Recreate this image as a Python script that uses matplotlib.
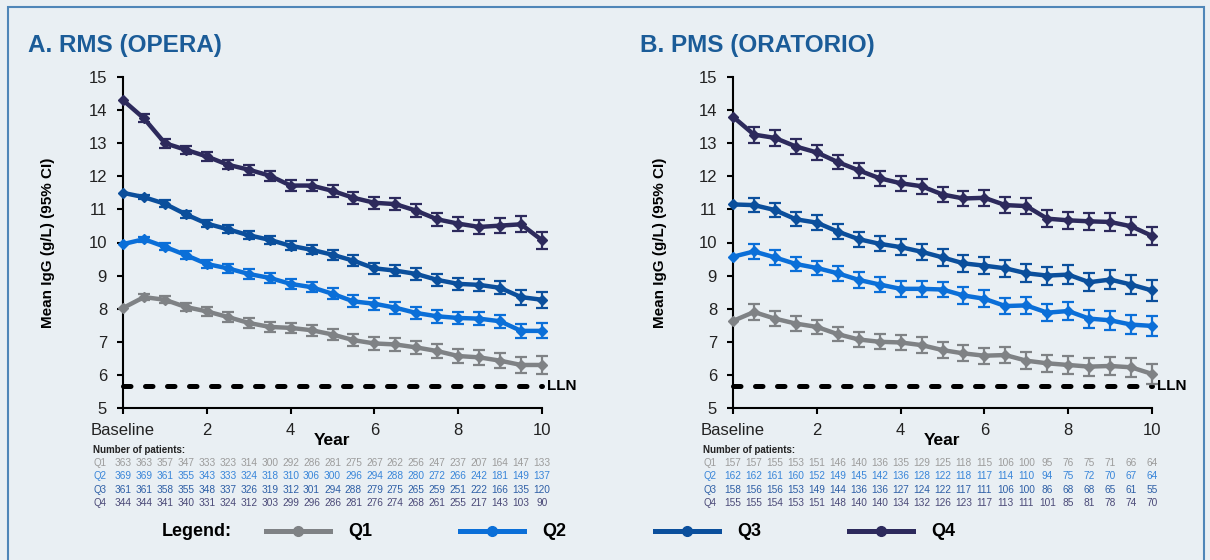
import matplotlib
matplotlib.use("Agg")
import matplotlib.pyplot as plt
import matplotlib.transforms as mtransforms
from matplotlib.lines import Line2D
from matplotlib.patches import Rectangle
import numpy as np

# visit times in years: baseline then every 6 months
years = np.arange(0, 10.5, 0.5)
groups = ['Q1', 'Q2', 'Q3', 'Q4']

# mean IgG (g/L), panel A = RMS (OPERA)
rms_q1 = [8.02, 8.35, 8.27, 8.05, 7.92, 7.75, 7.57, 7.45, 7.42, 7.35, 7.22,
          7.05, 6.95, 6.92, 6.83, 6.72, 6.57, 6.53, 6.43, 6.3, 6.3]
rms_q2 = [9.95, 10.1, 9.87, 9.62, 9.35, 9.22, 9.05, 8.93, 8.75, 8.65, 8.45,
          8.22, 8.15, 8.03, 7.87, 7.77, 7.72, 7.7, 7.62, 7.33, 7.33]
rms_q3 = [11.5, 11.37, 11.17, 10.85, 10.57, 10.4, 10.22, 10.08, 9.9, 9.78, 9.63,
          9.45, 9.22, 9.15, 9.05, 8.87, 8.75, 8.72, 8.63, 8.35, 8.27]
rms_q4 = [14.3, 13.75, 13.0, 12.8, 12.6, 12.35, 12.2, 12.02, 11.72, 11.72, 11.56,
          11.35, 11.2, 11.16, 10.96, 10.7, 10.57, 10.47, 10.51, 10.55, 10.07]

# 95% CI half widths from 6 months on (baseline has no bar)
rms_q1_ci = [0.1, 0.11, 0.12, 0.13, 0.14, 0.15, 0.15, 0.16, 0.17, 0.17,
             0.18, 0.19, 0.19, 0.2, 0.21, 0.22, 0.22, 0.23, 0.25, 0.26]
rms_q2_ci = [0.08, 0.1, 0.11, 0.12, 0.13, 0.14, 0.15, 0.16, 0.16, 0.17,
             0.18, 0.18, 0.18, 0.18, 0.19, 0.19, 0.19, 0.2, 0.22, 0.23]
rms_q3_ci = [0.07, 0.1, 0.11, 0.11, 0.12, 0.12, 0.13, 0.14, 0.14, 0.15,
             0.16, 0.17, 0.17, 0.17, 0.18, 0.18, 0.19, 0.2, 0.23, 0.24]
rms_q4_ci = [0.12, 0.13, 0.13, 0.13, 0.14, 0.15, 0.15, 0.17, 0.17, 0.18,
             0.18, 0.18, 0.18, 0.19, 0.2, 0.21, 0.21, 0.22, 0.24, 0.26]

# panel B = PMS (ORATORIO)
pms_q1 = [7.63, 7.9, 7.7, 7.55, 7.45, 7.23, 7.07, 7.0, 6.98, 6.9, 6.75,
          6.65, 6.58, 6.6, 6.43, 6.35, 6.3, 6.25, 6.27, 6.23, 6.03]
pms_q2 = [9.57, 9.73, 9.55, 9.35, 9.23, 9.07, 8.87, 8.73, 8.6, 8.6, 8.58,
          8.4, 8.3, 8.08, 8.1, 7.88, 7.93, 7.7, 7.65, 7.52, 7.48]
pms_q3 = [11.15, 11.13, 10.98, 10.7, 10.6, 10.33, 10.1, 9.96, 9.86, 9.72, 9.55,
          9.37, 9.3, 9.22, 9.07, 9.0, 9.03, 8.8, 8.88, 8.73, 8.55]
pms_q4 = [13.8, 13.26, 13.16, 12.9, 12.72, 12.43, 12.18, 11.94, 11.79, 11.7, 11.45,
          11.33, 11.35, 11.13, 11.1, 10.72, 10.67, 10.64, 10.62, 10.49, 10.2]

pms_q1_ci = [0.23, 0.22, 0.22, 0.22, 0.22, 0.22, 0.23, 0.23, 0.23, 0.24,
             0.24, 0.24, 0.25, 0.25, 0.26, 0.26, 0.27, 0.27, 0.28, 0.29]
pms_q2_ci = [0.22, 0.22, 0.22, 0.22, 0.23, 0.23, 0.23, 0.24, 0.24, 0.24,
             0.25, 0.25, 0.25, 0.26, 0.26, 0.27, 0.27, 0.28, 0.29, 0.3]
pms_q3_ci = [0.21, 0.21, 0.21, 0.22, 0.22, 0.23, 0.23, 0.24, 0.24, 0.25,
             0.25, 0.26, 0.26, 0.27, 0.27, 0.28, 0.28, 0.28, 0.29, 0.31]
pms_q4_ci = [0.24, 0.24, 0.23, 0.23, 0.22, 0.22, 0.23, 0.23, 0.23, 0.23,
             0.24, 0.24, 0.24, 0.25, 0.25, 0.26, 0.26, 0.26, 0.27, 0.28]

# number of patients at each visit
rms_n = [
    [363, 363, 357, 347, 333, 323, 314, 300, 292, 286, 281, 275, 267, 262, 256, 247, 237, 207, 164, 147, 133],
    [369, 369, 361, 355, 343, 333, 324, 318, 310, 306, 300, 296, 294, 288, 280, 272, 266, 242, 181, 149, 137],
    [361, 361, 358, 355, 348, 337, 326, 319, 312, 301, 294, 288, 279, 275, 265, 259, 251, 222, 166, 135, 120],
    [344, 344, 341, 340, 331, 324, 312, 303, 299, 296, 286, 281, 276, 274, 268, 261, 255, 217, 143, 103, 90],
]
pms_n = [
    [157, 157, 155, 153, 151, 146, 140, 136, 135, 129, 125, 118, 115, 106, 100, 95, 76, 75, 71, 66, 64],
    [162, 162, 161, 160, 152, 149, 145, 142, 136, 128, 122, 118, 117, 114, 110, 94, 75, 72, 70, 67, 64],
    [158, 156, 156, 153, 149, 144, 136, 136, 127, 124, 122, 117, 111, 106, 100, 86, 68, 68, 65, 61, 55],
    [155, 155, 154, 153, 151, 148, 140, 140, 134, 132, 126, 123, 117, 113, 111, 101, 85, 81, 78, 74, 70],
]

LLN = 5.65

line_colors = ['#7f8285', '#0b6fd8', '#0b4f9c', '#2d2a5c']
count_colors = ['#9c9c9c', '#3a86d9', '#2e5fa6', '#4b4a78']
bg = '#e9eff3'
title_color = '#1b5c98'

plt.rcParams['font.family'] = ['Liberation Sans', 'DejaVu Sans']

W, H = 1210, 560
fig = plt.figure(figsize=(W / 100, H / 100), dpi=100, facecolor=bg)

fig.add_artist(Rectangle((8 / W, -0.1), (1204 - 8) / W, 1 - 7 / H + 0.1,
                         transform=fig.transFigure, fill=False,
                         ec='#4f86b8', lw=1.5))


def draw_panel(left, label_x, title, title_x, means, cis, counts):
    ax = fig.add_axes([left / W, 1 - 408 / H, 419 / W, 331 / H])
    ax.set_facecolor(bg)
    for k in range(4):
        ax.plot(years, means[k], color=line_colors[k], lw=3.2,
                marker='D', ms=5, clip_on=False, zorder=3)
        ax.errorbar(years[1:], means[k][1:], yerr=cis[k], fmt='none',
                    ecolor=line_colors[k], elinewidth=1.6, capsize=4.5,
                    capthick=1.6, clip_on=False, zorder=3)
    ax.plot([0, 10], [LLN, LLN], color='black', lw=3.6,
            dashes=(1.5, 2.9), dash_capstyle='round', clip_on=False, zorder=2)
    ax.text(10.12, LLN, 'LLN', ha='left', va='center', fontsize=11,
            fontweight='bold')

    ax.set_xlim(0, 10)
    ax.set_ylim(5, 15)
    ax.set_yticks(range(5, 16))
    ax.set_xticks([0, 2, 4, 6, 8, 10])
    ax.set_xticklabels(['Baseline', '2', '4', '6', '8', '10'])
    for s in ['top', 'right']:
        ax.spines[s].set_visible(False)
    for s in ['left', 'bottom']:
        ax.spines[s].set_linewidth(1.5)
    ax.tick_params(axis='y', direction='out', length=4.5, width=1.5,
                   pad=7, labelsize=12, labelcolor='#222222')
    ax.tick_params(axis='x', direction='out', length=4.5, width=1.5,
                   pad=6, labelsize=12, labelcolor='#222222')

    ax.set_xlabel('Year', fontsize=12.5, fontweight='bold', va='center')
    ax.xaxis.set_label_coords(0.5, -0.097)
    ax.set_ylabel('Mean IgG (g/L) (95% CI)', fontsize=11,
                  fontweight='bold', va='center')
    ax.yaxis.set_label_coords(label_x, 0.5)

    fig.text(title_x / W, 1 - 52 / H, title, fontsize=17.5, fontweight='bold',
             color=title_color, va='baseline')

    # number of patients table, one column per visit
    trans = mtransforms.blended_transform_factory(ax.transData, fig.transFigure)
    row_left = (left - 30) / W
    fig.text(row_left, 1 - 450 / H, 'Number of patients:', fontsize=7,
             fontweight='bold', va='center', color='#222222')
    row_y = [463, 476, 490, 503]
    for k in range(4):
        fig.text(row_left, 1 - row_y[k] / H, groups[k], fontsize=7,
                 va='center', color=count_colors[k])
        for j, n in enumerate(counts[k]):
            ax.text(years[j], 1 - row_y[k] / H, str(n), transform=trans,
                    fontsize=7.3, ha='center', va='center',
                    color=count_colors[k], clip_on=False)
    return ax


draw_panel(123, -0.18, 'A. RMS (OPERA)', 28,
           [rms_q1, rms_q2, rms_q3, rms_q4],
           [rms_q1_ci, rms_q2_ci, rms_q3_ci, rms_q4_ci], rms_n)
draw_panel(733, -0.174, 'B. PMS (ORATORIO)', 640,
           [pms_q1, pms_q2, pms_q3, pms_q4],
           [pms_q1_ci, pms_q2_ci, pms_q3_ci, pms_q4_ci], pms_n)

# legend strip along the bottom
ly = 1 - 531 / H
fig.text(162 / W, ly, 'Legend:', fontsize=13, fontweight='bold', va='center')
line_starts = [266, 460, 655, 849]
for k in range(4):
    x0 = line_starts[k]
    fig.add_artist(Line2D([x0 / W, (x0 + 64) / W], [ly, ly],
                          transform=fig.transFigure, color=line_colors[k],
                          lw=3.6))
    fig.add_artist(Line2D([(x0 + 32) / W], [ly], transform=fig.transFigure,
                          color=line_colors[k], marker='o', ms=7))
    fig.text((x0 + 82) / W, ly, groups[k], fontsize=13, fontweight='bold',
             va='center')

fig.savefig('out.png', dpi=100, facecolor=bg)
